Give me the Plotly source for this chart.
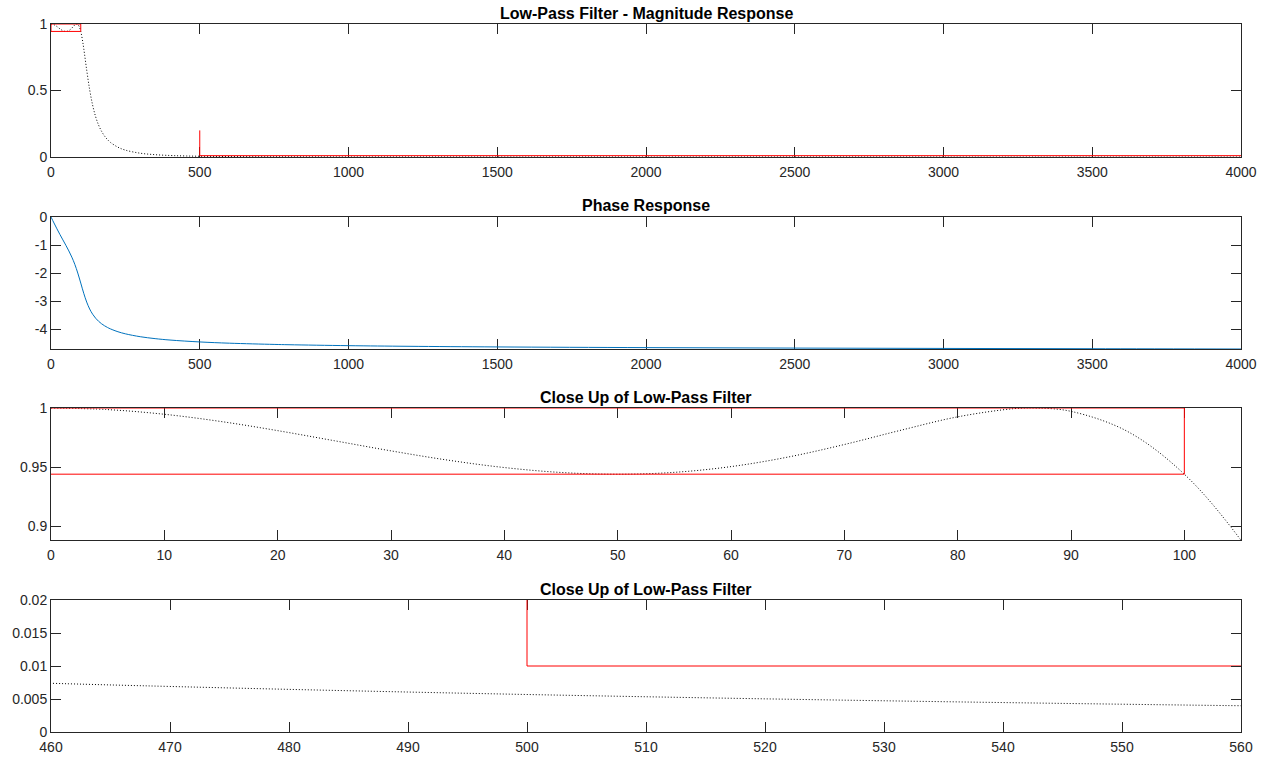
import plotly.graph_objects as go

# ---------------- data ----------------
mag_freq = [0, 5, 10, 15, 20, 25, 30, 35, 40, 45, 50, 55, 60, 65, 70, 75, 80, 85, 87, 90,
            95, 100, 105, 110, 120, 130, 140, 150, 160, 170, 180, 190, 200, 225, 250,
            300, 350, 400, 430, 460, 470, 480, 490, 500, 510, 520, 530, 540, 550, 560,
            600, 700, 800, 1000, 1500, 2000, 3000, 4000]
mag = [1.0, 0.99864, 0.99470, 0.98858, 0.98088, 0.97236, 0.96379, 0.95600, 0.94970,
       0.94554, 0.94406, 0.94564, 0.95049, 0.95850, 0.96915, 0.98124, 0.99253, 0.99947,
       0.99996, 0.99717, 0.98012, 0.94406, 0.88830, 0.81654, 0.65394, 0.50537, 0.38918,
       0.30312, 0.23991, 0.19305, 0.15768, 0.13057, 0.10944, 0.07358, 0.05173, 0.02853,
       0.01746, 0.011453, 0.009124, 0.007382, 0.006900, 0.006459, 0.006054, 0.005682,
       0.005339, 0.005023, 0.004731, 0.004461, 0.004211, 0.003979, 0.003201, 0.001964,
       0.001280, 0.000615, 0.000146, 0.0000434, 0.0000031, 0.0]

ph_freq = [0, 10, 20, 30, 40, 50, 60, 70, 80, 90, 100, 110, 120, 130, 140, 150, 160, 170,
           180, 190, 200, 225, 250, 300, 350, 400, 500, 600, 750, 800, 1000, 1200, 1500,
           2000, 2500, 3000, 3500, 4000]
phase = [0, -0.2134, -0.4231, -0.6232, -0.8181, -1.0110, -1.2117, -1.4326, -1.6902,
         -2.0005, -2.3584, -2.7217, -3.0377, -3.2846, -3.4711, -3.6132, -3.7239, -3.8124,
         -3.8838, -3.9443, -3.9956, -4.0961, -4.1705, -4.2738, -4.3427, -4.3926, -4.4605,
         -4.5049, -4.5489, -4.5599, -4.5931, -4.6155, -4.6386, -4.6631, -4.6795, -4.6920,
         -4.7026, -4.7124]

pass_x = [0, 100, 100, 0, 0]
pass_y = [1, 1, 0.9441, 0.9441, 1]
stop_x = [500, 500, 4000]
stop_y = [0.2, 0.01, 0.01]

titles = ["Low-Pass Filter - Magnitude Response", "Phase Response",
          "Close Up of Low-Pass Filter", "Close Up of Low-Pass Filter"]

x1_ticks = [0, 500, 1000, 1500, 2000, 2500, 3000, 3500, 4000]
y1_ticks = [0, 0.5, 1]
y1_text = ["0", "0.5", "1"]
y2_ticks = [0, -1, -2, -3, -4]
y2_text = ["0", "-1", "-2", "-3", "-4"]
x3_ticks = [0, 10, 20, 30, 40, 50, 60, 70, 80, 90, 100]
y3_ticks = [0.9, 0.95, 1]
y3_text = ["0.9", "0.95", "1"]
x4_ticks = [460, 470, 480, 490, 500, 510, 520, 530, 540, 550, 560]
y4_ticks = [0, 0.005, 0.01, 0.015, 0.02]
y4_text = ["0", "0.005", "0.01", "0.015", "0.02"]

# ---------------- figure ----------------
W, H = 1266, 757
FONT = "Liberation Sans, Arial, Helvetica, sans-serif"
AX = "#262626"
RED = "#ff0000"
BLUE = "#0072bd"
DOT = "1px,2px"

fig = go.Figure()

def mag_traces(xa, ya, closed=True):
    fig.add_trace(go.Scatter(x=mag_freq, y=mag, mode="lines", xaxis=xa, yaxis=ya,
                             line=dict(color="#000000", width=1, dash=DOT, shape="spline"),
                             hoverinfo="skip"))
    px_ = pass_x if closed else pass_x[:4]
    py_ = pass_y if closed else pass_y[:4]
    fig.add_trace(go.Scatter(x=px_, y=py_, mode="lines", xaxis=xa, yaxis=ya,
                             line=dict(color=RED, width=1), hoverinfo="skip"))
    fig.add_trace(go.Scatter(x=stop_x, y=stop_y, mode="lines", xaxis=xa, yaxis=ya,
                             line=dict(color=RED, width=1), hoverinfo="skip"))

mag_traces("x", "y")
fig.add_trace(go.Scatter(x=ph_freq, y=phase, mode="lines", xaxis="x2", yaxis="y2",
                         line=dict(color=BLUE, width=1, shape="spline"), hoverinfo="skip"))
mag_traces("x3", "y3", closed=False)
mag_traces("x4", "y4")

xdom = [51 / W, 1241 / W]
rows = [(24, 157), (217, 349), (408, 540), (600, 732)]

def ydom(t, b):
    return [1 - b / H, 1 - t / H]

common = dict(showline=True, linecolor=AX, linewidth=1, mirror="ticks", ticks="inside",
              ticklen=10, tickwidth=1, tickcolor=AX, showgrid=False, zeroline=False,
              automargin=False,
              tickfont=dict(family=FONT, size=14, color=AX), fixedrange=True)

xranges = [[0, 4000], [0, 4000], [0, 105], [460, 560]]
yranges = [[0, 1], [-4.7124, 0], [0.8885, 1], [0, 0.02]]
xt = [x1_ticks, x1_ticks, x3_ticks, x4_ticks]
yt = [(y1_ticks, y1_text), (y2_ticks, y2_text), (y3_ticks, y3_text), (y4_ticks, y4_text)]

layout = dict(width=W, height=H, margin=dict(l=0, r=0, t=0, b=0),
              paper_bgcolor="white", plot_bgcolor="white", showlegend=False)
annotations = []
for i in range(4):
    sx = "" if i == 0 else str(i + 1)
    t, b = rows[i]
    layout["xaxis" + sx] = dict(common, domain=xdom, range=xranges[i], tickvals=xt[i],
                                ticktext=[str(v) for v in xt[i]], ticklabelstandoff=2,
                                anchor="y" + sx, layer="below traces")
    layout["yaxis" + sx] = dict(common, domain=ydom(t, b), range=yranges[i],
                                tickvals=yt[i][0], ticktext=yt[i][1],
                                anchor="x" + sx, layer="above traces")
    annotations.append(dict(text="<b>" + titles[i] + "</b>", xref="paper", yref="paper",
                            x=(xdom[0] + xdom[1]) / 2, y=1 - (t - 11) / H,
                            xanchor="center", yanchor="middle", showarrow=False,
                            font=dict(family=FONT, size=16, color="#000000")))
layout["annotations"] = annotations
fig.update_layout(**layout)

fig.write_html("out.html")
